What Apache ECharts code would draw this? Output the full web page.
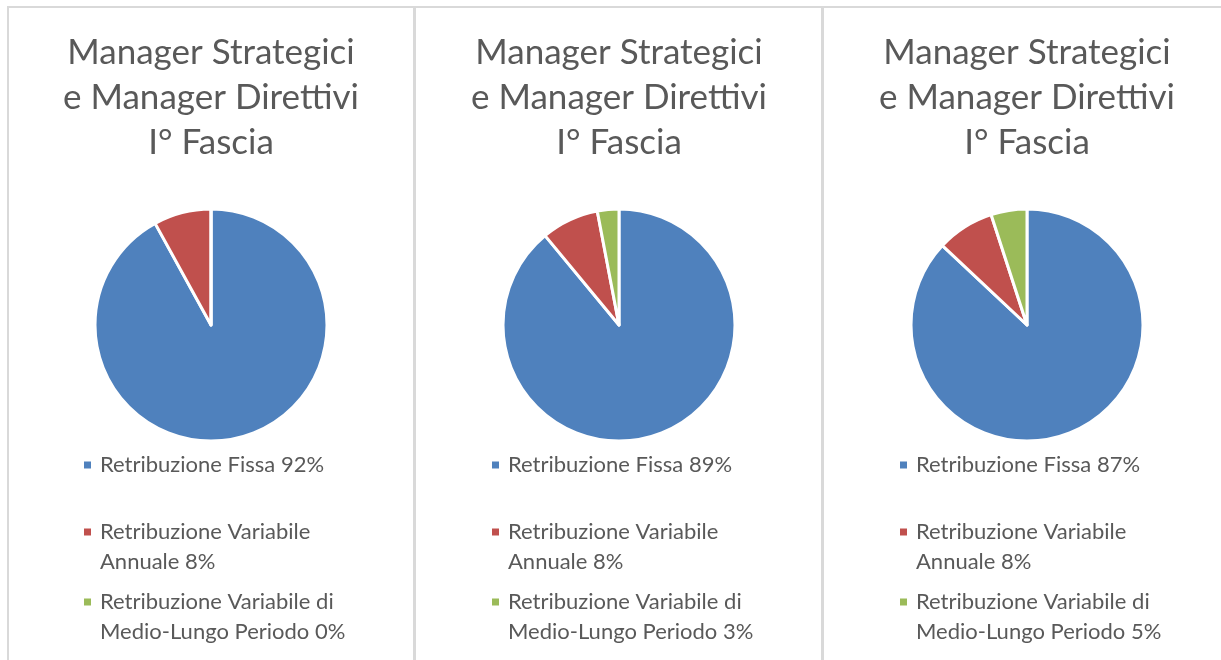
<!DOCTYPE html>
<html>
<head>
<meta charset="utf-8">
<script src="https://cdn.jsdelivr.net/npm/echarts@6/dist/echarts.min.js"></script>
<style>
  html, body { margin: 0; background: #fff; }
  #main { width: 1221px; height: 660px; }
</style>
</head>
<body>
<div id="main"></div>
<script>
// dati dei tre grafici
var titleText = "Manager Strategici\ne Manager Direttivi\nI° Fascia";
var categories = ["Retribuzione Fissa", "Retribuzione Variabile Annuale", "Retribuzione Variabile di Medio-Lungo Periodo"];
var legendLabels = ["Retribuzione Fissa", "Retribuzione Variabile\nAnnuale", "Retribuzione Variabile di\nMedio-Lungo Periodo"];
var panel1 = [92, 8, 0];
var panel2 = [89, 8, 3];
var panel3 = [87, 8, 5];
var colors = ["#4F81BD", "#C0504D", "#9BBB59"];

var panels = [panel1, panel2, panel3];
var fontName = "Lato";
var step = 408;
var legendIconY = [465, 532, 602];

(function () {
  var myChart = echarts.init(document.getElementById("main"));

  var titles = [];
  var legends = [];
  var series = [];

  panels.forEach(function (values, i) {
    var cx = 211 + step * i;

    titles.push({
      text: titleText,
      left: cx,
      top: 30,
      padding: 0,
      textAlign: "center",
      textStyle: {
        fontFamily: fontName,
        fontSize: 35,
        fontWeight: "normal",
        color: "#595959",
        lineHeight: 45
      }
    });

    categories.forEach(function (name, j) {
      var twoLines = legendLabels[j].indexOf("\n") >= 0;
      legends.push({
        orient: "vertical",
        left: 82 + step * i,
        top: legendIconY[j] - (twoLines ? 45 : 15),
        padding: 0,
        icon: "rect",
        itemWidth: 9,
        itemHeight: 9,
        selectedMode: false,
        data: [name],
        formatter: function () {
          // riga vuota davanti: la prima riga resta allineata al quadratino
          return (twoLines ? "\n" : "") + legendLabels[j] + " " + values[j] + "%";
        },
        textStyle: {
          fontFamily: fontName,
          fontSize: 22,
          color: "#595959",
          lineHeight: 30,
          padding: [0, 0, 0, 3]
        }
      });
    });

    series.push({
      type: "pie",
      center: [cx, 325],
      radius: 116,
      startAngle: 90,
      clockwise: true,
      silent: true,
      label: { show: false },
      labelLine: { show: false },
      itemStyle: {
        borderColor: "#fff",
        borderWidth: 3
      },
      data: categories.map(function (name, j) {
        return { name: name, value: values[j], itemStyle: { color: colors[j] } };
      })
    });
  });

  var option = {
    animation: false,
    color: colors,
    title: titles,
    legend: legends,
    series: series,
    graphic: [
      { type: "rect", shape: { x: 8, y: 6, width: 1213, height: 2 }, style: { fill: "#d9d9d9" }, silent: true },
      { type: "rect", shape: { x: 7, y: 6, width: 2, height: 654 }, style: { fill: "#d9d9d9" }, silent: true },
      { type: "rect", shape: { x: 413, y: 6, width: 3, height: 654 }, style: { fill: "#d9d9d9" }, silent: true },
      { type: "rect", shape: { x: 821, y: 6, width: 3, height: 654 }, style: { fill: "#d9d9d9" }, silent: true }
    ]
  };

  myChart.setOption(option);
})();
</script>
</body>
</html>
